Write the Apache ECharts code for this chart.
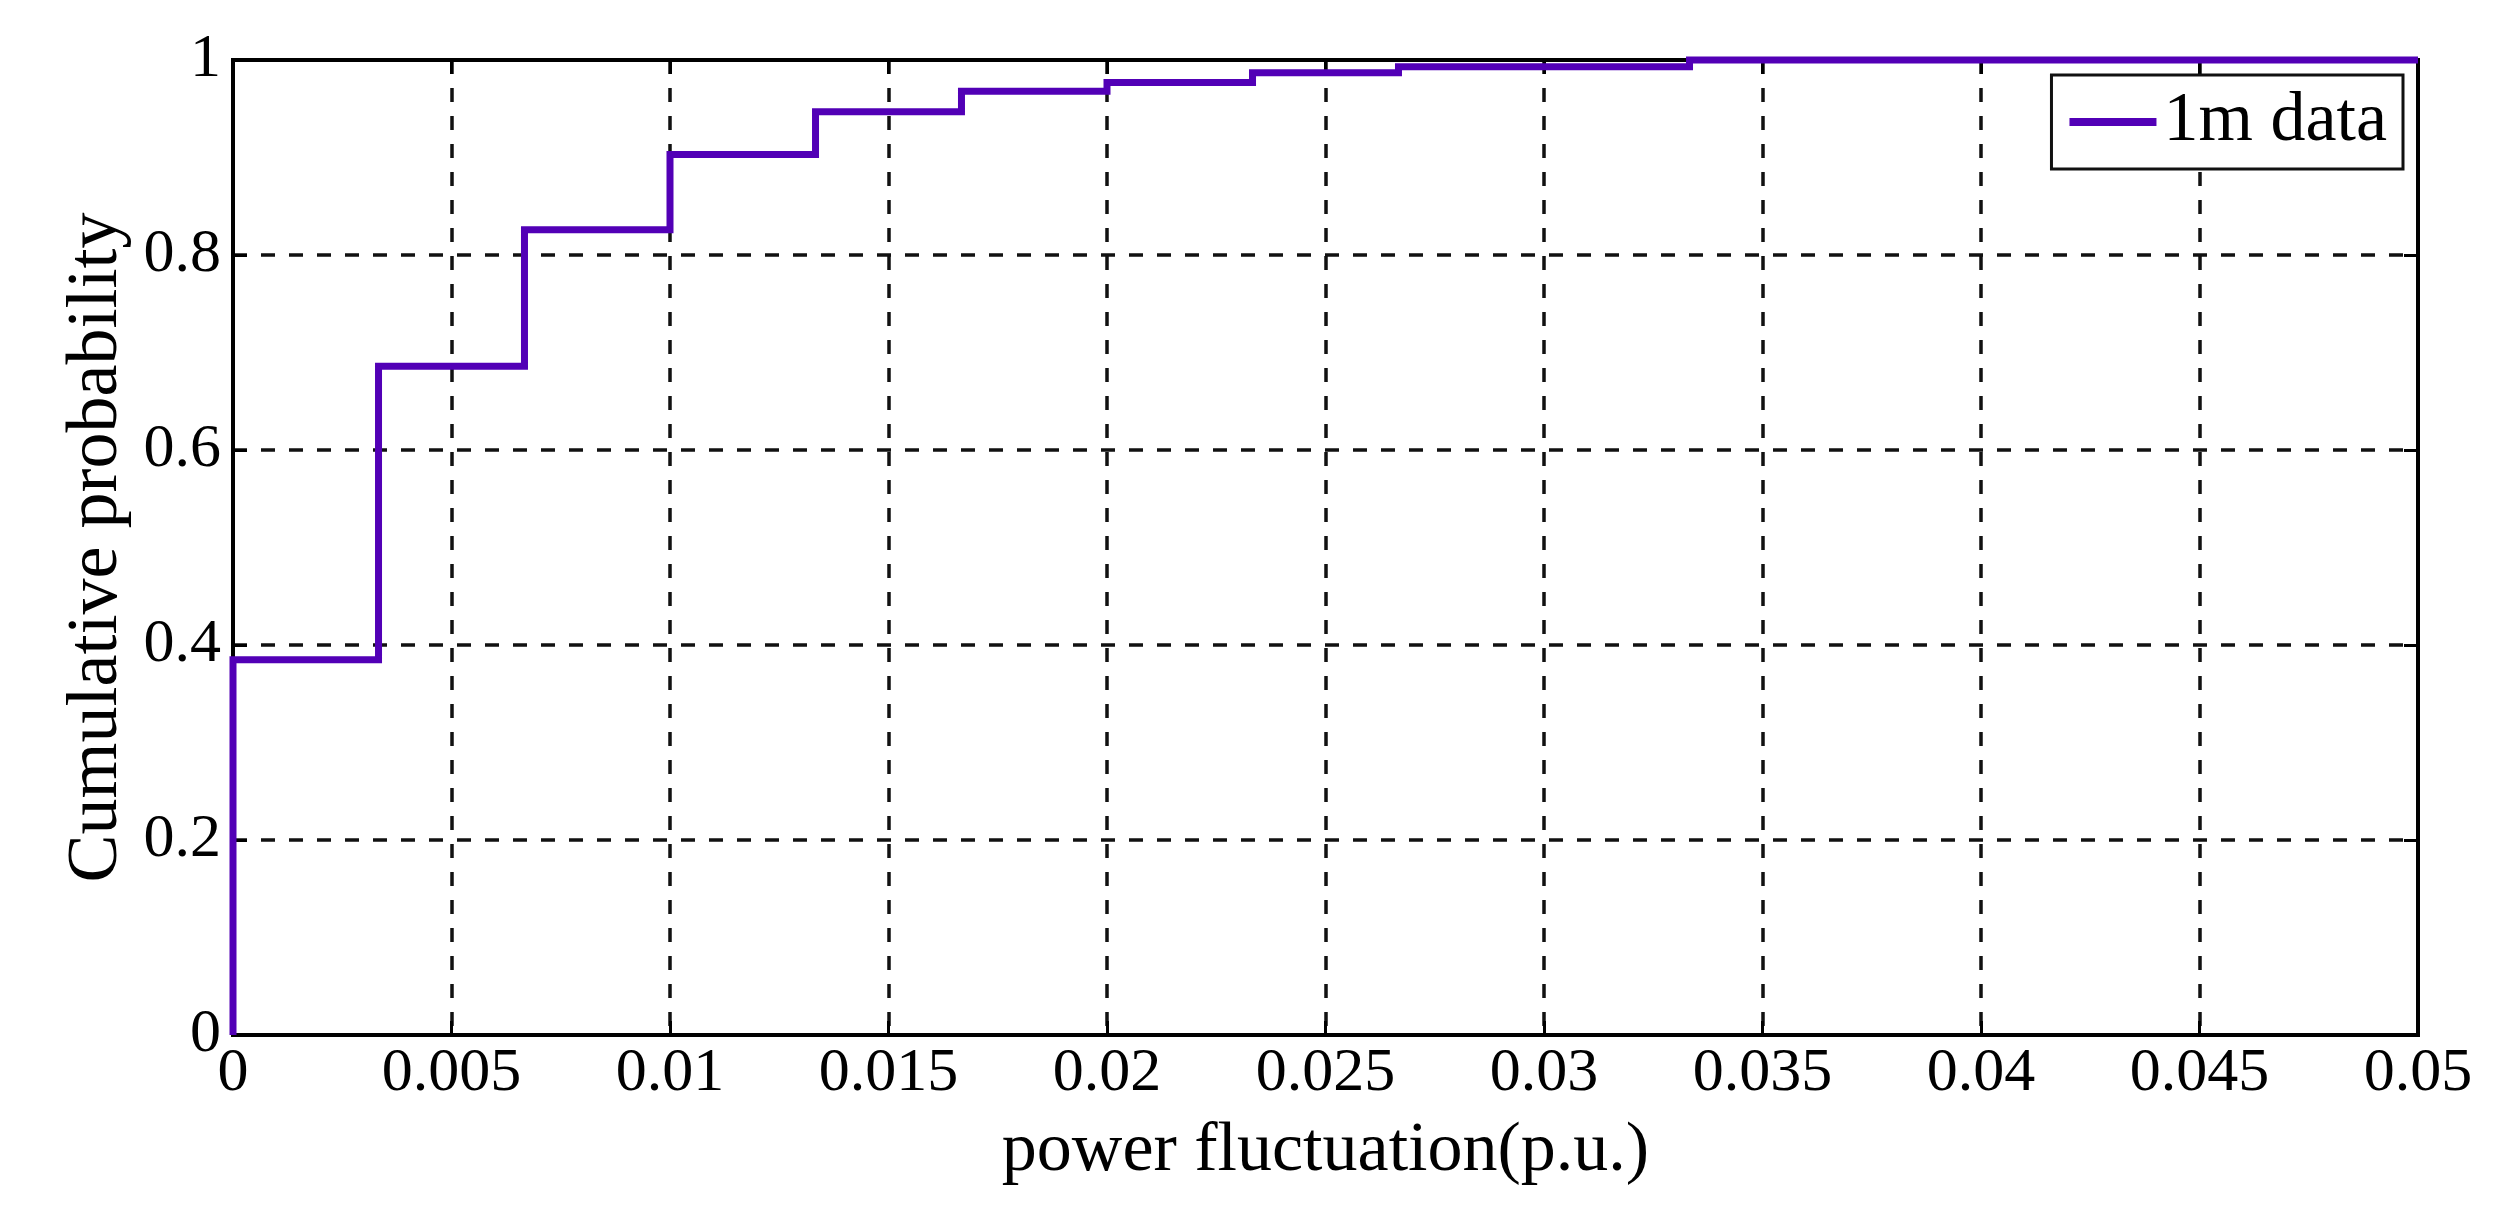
<!DOCTYPE html>
<html>
<head>
<meta charset="utf-8">
<script src="https://cdn.jsdelivr.net/npm/echarts@6/dist/echarts.min.js"></script>
<style>
html,body{margin:0;padding:0;background:#fff;}
#chart{width:2519px;height:1207px;}
</style>
</head>
<body>
<div id="chart"></div>
<script>
// ---- data ----
const seriesName = '1m data';
const xTitle = 'power fluctuation(p.u.)';
const yTitle = 'Cumulative probability';
// step start positions (p.u.) and the cumulative probability from each position on
const stepX   = [0, 0, 0.00333, 0.00667, 0.01, 0.01333, 0.01667, 0.02, 0.02333, 0.02667, 0.03333, 0.05];
const stepCdf = [0, 0.385, 0.686, 0.826, 0.903, 0.947, 0.968, 0.977, 0.987, 0.993, 1.0, 1.0];
const xTicks = [0, 0.005, 0.01, 0.015, 0.02, 0.025, 0.03, 0.035, 0.04, 0.045, 0.05];
const yTicks = [0, 0.2, 0.4, 0.6, 0.8, 1];

const points = stepX.map((x, i) => [x, stepCdf[i]]);

const FONT = '"Liberation Serif", "Times New Roman", serif';
const LINE_COLOR = '#5200b6';
const chart = echarts.init(document.getElementById('chart'));

const gridLine = {show: true, lineStyle: {color: '#111', width: 3.5, type: [14, 14]}};
const labelStyle = {fontFamily: FONT, fontSize: 62, color: '#000'};

chart.setOption({
  animation: false,
  backgroundColor: '#fff',
  grid: {left: 233, right: 101, top: 60, bottom: 172, show: true, borderColor: '#000', borderWidth: 4, backgroundColor: 'transparent'},
  legend: {
    data: [{name: seriesName, icon: 'rect', itemStyle: {color: LINE_COLOR}}],
    right: 116, top: 75,
    orient: 'vertical',
    backgroundColor: '#fff',
    borderColor: '#111', borderWidth: 3, borderRadius: 0,
    padding: [12, 16, 12, 18],
    itemWidth: 87, itemHeight: 8,
    textStyle: {fontFamily: FONT, fontSize: 70, color: '#000', padding: [0, 0, 0, 2]}
  },
  xAxis: [{
    type: 'value', min: xTicks[0], max: xTicks[xTicks.length - 1], interval: xTicks[1] - xTicks[0],
    name: xTitle, nameLocation: 'middle', nameGap: 82,
    nameTextStyle: {fontFamily: FONT, fontSize: 70, color: '#000'},
    axisLine: {show: true, onZero: false, lineStyle: {color: '#000', width: 4}},
    axisTick: {show: true, inside: true, length: 14, lineStyle: {color: '#000', width: 3}},
    axisLabel: Object.assign({margin: 8, formatter: v => String(+v.toFixed(3))}, labelStyle),
    splitLine: gridLine
  }, {
    type: 'value', position: 'top', min: xTicks[0], max: xTicks[xTicks.length - 1], interval: xTicks[1] - xTicks[0],
    axisLine: {show: true, onZero: false, lineStyle: {color: '#000', width: 4}},
    axisTick: {show: true, inside: true, length: 14, lineStyle: {color: '#000', width: 3}},
    axisLabel: {show: false}, splitLine: {show: false}
  }],
  yAxis: [{
    type: 'value', min: yTicks[0], max: yTicks[yTicks.length - 1], interval: yTicks[1] - yTicks[0],
    name: yTitle, nameLocation: 'middle', nameGap: 100,
    nameTextStyle: {fontFamily: FONT, fontSize: 72, color: '#000'},
    axisLine: {show: true, onZero: false, lineStyle: {color: '#000', width: 4}},
    axisTick: {show: true, inside: true, length: 14, lineStyle: {color: '#000', width: 3}},
    axisLabel: Object.assign({margin: 12, formatter: v => String(+v.toFixed(1))}, labelStyle),
    splitLine: gridLine
  }, {
    type: 'value', position: 'right', min: yTicks[0], max: yTicks[yTicks.length - 1], interval: yTicks[1] - yTicks[0],
    axisLine: {show: true, onZero: false, lineStyle: {color: '#000', width: 4}},
    axisTick: {show: true, inside: true, length: 14, lineStyle: {color: '#000', width: 3}},
    axisLabel: {show: false}, splitLine: {show: false}
  }],
  series: [{
    name: seriesName,
    type: 'line',
    step: 'end',
    data: points,
    showSymbol: false, symbol: 'none',
    clip: false,
    z: 5,
    lineStyle: {color: LINE_COLOR, width: 7, join: 'miter', cap: 'butt'},
    itemStyle: {color: LINE_COLOR}
  }]
});
</script>
</body>
</html>
